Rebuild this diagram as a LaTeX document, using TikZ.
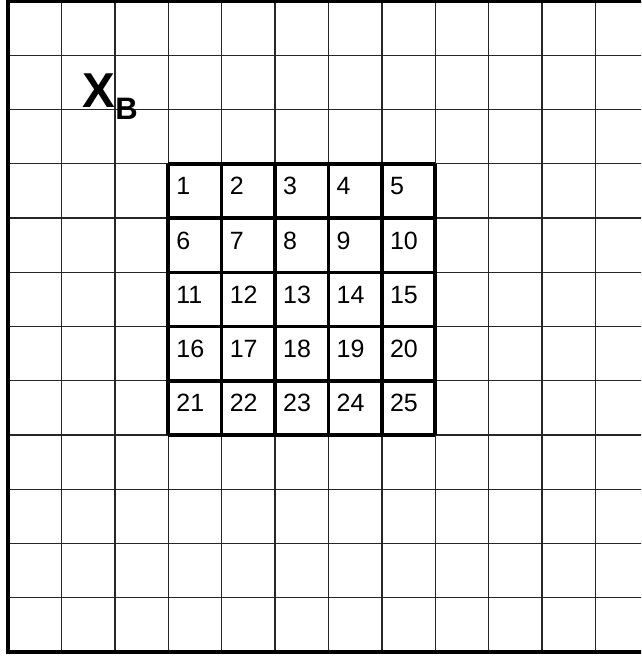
\documentclass[tikz,border=0pt]{standalone}
\usepackage{fontspec}
\setmainfont{Liberation Sans}
\begin{document}
\begin{tikzpicture}[x=53.4pt,y=-54.25pt,
  thin/.style={line width=1.4pt,black!85},
  heavy/.style={line width=3.5pt},
  num/.style={anchor=base west,inner sep=0pt,font=\fontsize{25}{25}\selectfont}]
\useasboundingbox (-8pt,1pt) rectangle (633pt,-655pt);
\clip (-8pt,1pt) rectangle (633pt,-655pt);
\foreach \i in {1,...,11} {
  \draw[thin] (\i,0) -- (\i,12);
  \draw[thin] (0,\i) -- (12,\i);
}
\draw[heavy] (12,0) -- (0,0) -- (0,12) -- (12,12);
\foreach \i in {3,...,8} {
  \draw[heavy] (\i,3) -- (\i,8);
  \draw[heavy] (3,\i) -- (8,\i);
}
\foreach \r in {0,...,4}
  \foreach \c in {0,...,4} {
    \pgfmathtruncatemacro{\k}{5*\r+\c+1}
    \node[num,xshift=8pt,yshift=-31pt] (n\k) at (\c+3,\r+3) {\k};
  }
\node[anchor=base west,inner sep=0pt] (xb) at (74.5pt,-106pt)
  {\fontsize{49}{49}\selectfont\bfseries X\raisebox{-12pt}{\fontsize{31}{31}\selectfont B}};
\end{tikzpicture}
\end{document}
